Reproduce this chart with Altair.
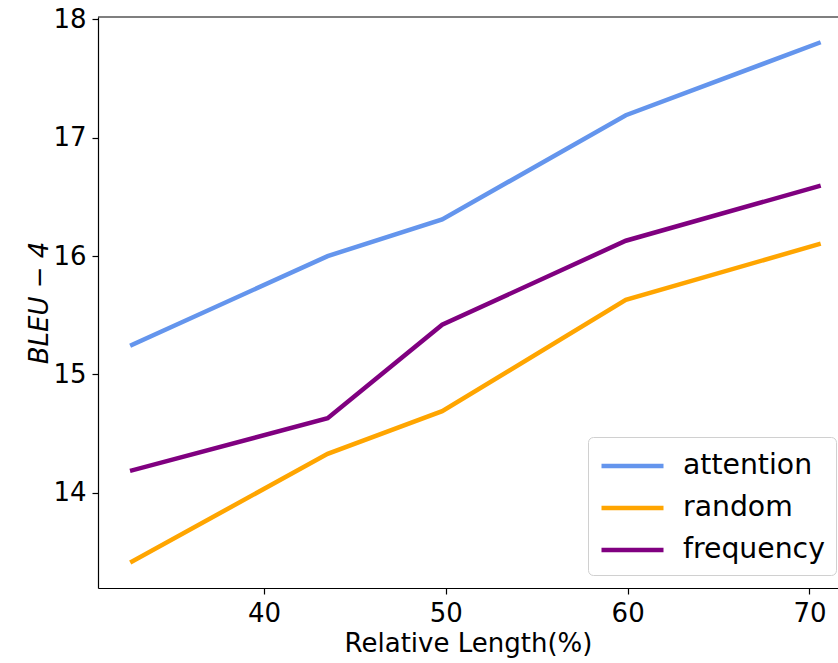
import altair as alt
import pandas as pd

rel_length = [32.75, 43.5, 49.8, 59.9, 70.5]
attention = [15.25, 16.0, 16.31, 17.19, 17.80]
random_ = [13.42, 14.33, 14.69, 15.63, 16.10]
frequency = [14.19, 14.63, 15.42, 16.13, 16.59]
series = ["attention", "random", "frequency"]
colors = ["#6495ED", "#FFA500", "#800080"]
x_ticks = [40, 50, 60, 70]
y_ticks = [14, 15, 16, 17, 18]

rows = []
for name, vals in zip(series, [attention, random_, frequency]):
    for x, v in zip(rel_length, vals):
        rows.append({"x": x, "y": v, "method": name})
df = pd.DataFrame(rows)

W, H = 740, 571
FONT = "DejaVu Sans"

lines = alt.Chart(df).mark_line(strokeWidth=4.5, strokeCap="square").encode(
    x=alt.X("x:Q", scale=alt.Scale(domain=[30.87, 71.57], nice=False, zero=False),
            axis=alt.Axis(values=x_ticks, title="Relative Length(%)", format="d")),
    y=alt.Y("y:Q", scale=alt.Scale(domain=[13.196, 18.02], nice=False, zero=False),
            axis=alt.Axis(values=y_ticks, title="BLEU − 4", format="d", titleFontStyle="italic")),
    color=alt.Color("method:N", scale=alt.Scale(domain=series, range=colors),
                    legend=alt.Legend(title=None, orient="none", legendX=490, legendY=420,
                                      symbolType="M-1,0H3", symbolStrokeWidth=4.5,
                                      symbolSize=961, labelFontSize=28.3, labelFont=FONT,
                                      labelColor="black", rowPadding=10, labelOffset=48,
                                      padding=11, strokeColor="#d0d0d0", cornerRadius=5,
                                      fillColor="white")),
    order=alt.Order("x:Q"),
)

top = alt.Chart(pd.DataFrame({"k": [0]})).mark_rule(color="black", strokeWidth=1.2).encode(
    x=alt.value(0), x2=alt.value(W), y=alt.value(0)
)

chart = alt.layer(lines, top).properties(
    width=W, height=H, autosize="none",
    padding={"left": 98, "top": 17, "right": 0, "bottom": 75},
).configure_view(stroke=None).configure_axis(
    grid=False, domainColor="black", domainWidth=1.2, tickColor="black", tickWidth=1.2,
    tickSize=6, labelFont=FONT, labelFontSize=26, labelColor="black", labelPadding=6,
    titleFont=FONT, titleFontSize=26, titleFontWeight="normal", titleColor="black",
).configure_axisX(titlePadding=4).configure_axisY(titlePadding=0)

chart.save("out.html", embed_options={"renderer": "svg", "actions": False})
